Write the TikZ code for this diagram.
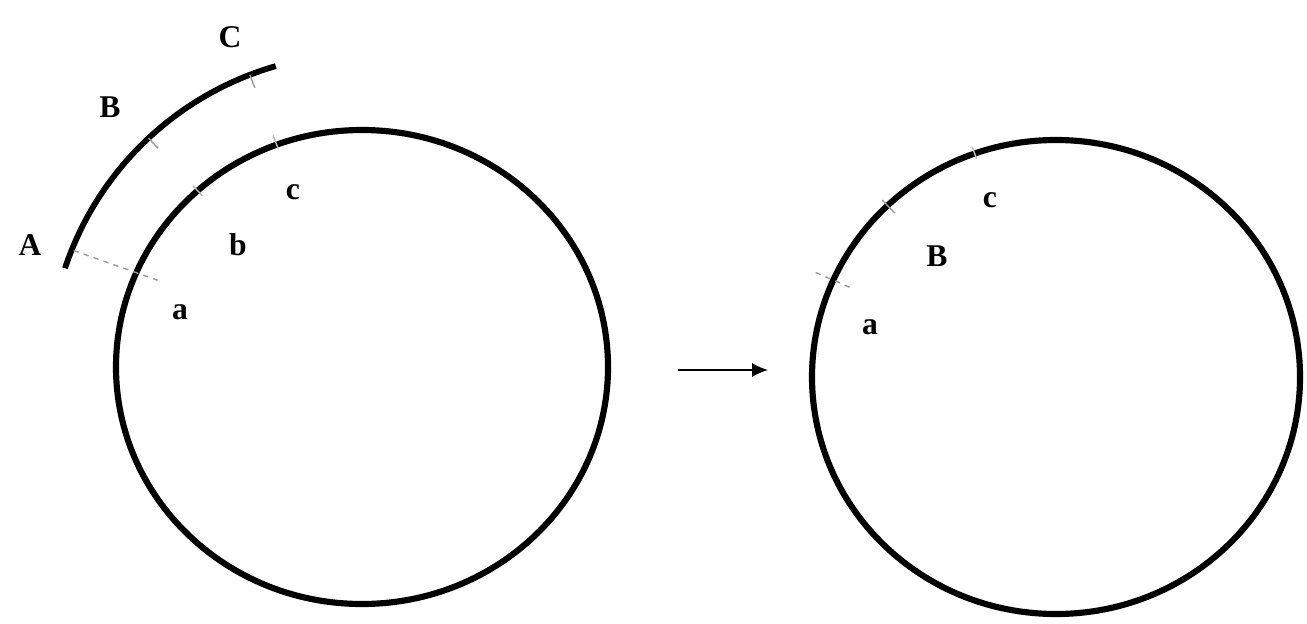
\documentclass[tikz,border=0pt]{standalone}
\usepackage{fontspec}
\setmainfont{Liberation Serif}
\usetikzlibrary{arrows.meta, calc}

\begin{document}
\begin{tikzpicture}[x=0.02cm, y=0.02cm,
    rim/.style={line width=3.5pt},
    mark line/.style={gray!80, line width=0.8pt},
    lbl/.style={font=\fontsize{18}{21}\selectfont\bfseries}]
  \useasboundingbox (0,0) rectangle (1307,623);
  \coordinate (L) at (362,256);
  \coordinate (R) at (1056,246);
  % the two wheels
  \draw[rim] (L) ellipse [x radius=246, y radius=237];
  \draw[rim] (R) ellipse [x radius=244, y radius=237];
  % outer arc rolling on the left wheel
  \draw[rim, line width=3.3pt]
      ([shift={(161.6:313)}]L) arc[start angle=161.6, end angle=106, radius=313];
  % marks
  \draw[mark line, dashed] ($(L)+(158:311)$) -- ($(L)+(157:222)$);
  \foreach \a in {133,111} {
    \draw[mark line] ($(L)+(\a:313)$) -- ($(L)+(\a:299)$);
    \draw[mark line, gray!55] ($(L)+(\a:248)$) -- ($(L)+(\a:234)$);
  }
  \draw[mark line, dashed] ($(R)+(156.5:262)$) -- ($(R)+(156.5:222)$);
  \draw[mark line] ($(R)+(134.5:248)$) -- ($(R)+(134.5:230)$);
  \draw[mark line, gray!50] ($(R)+(110:245)$) -- ($(R)+(110:232)$);
  % labels
  \node[lbl] (lblA) at (30,378) {A};
  \node[lbl] (lblB) at (110,516) {B};
  \node[lbl] (lblC) at (230,586) {C};
  \node[lbl] (lbla) at (180,311) {a};
  \node[lbl] (lblb) at (238,378) {b};
  \node[lbl] (lblc) at (293,431) {c};
  \node[lbl] (rgta) at (870,296) {a};
  \node[lbl] (rgtB) at (937,367) {B};
  \node[lbl] (rgtc) at (990,423) {c};
  % arrow between the two
  \coordinate (from) at (678,253);
  \coordinate (to) at (768,253);
  \draw[line width=1pt, -{Latex[length=9pt, width=8pt]}] (from) -- (to);
\end{tikzpicture}
\end{document}
